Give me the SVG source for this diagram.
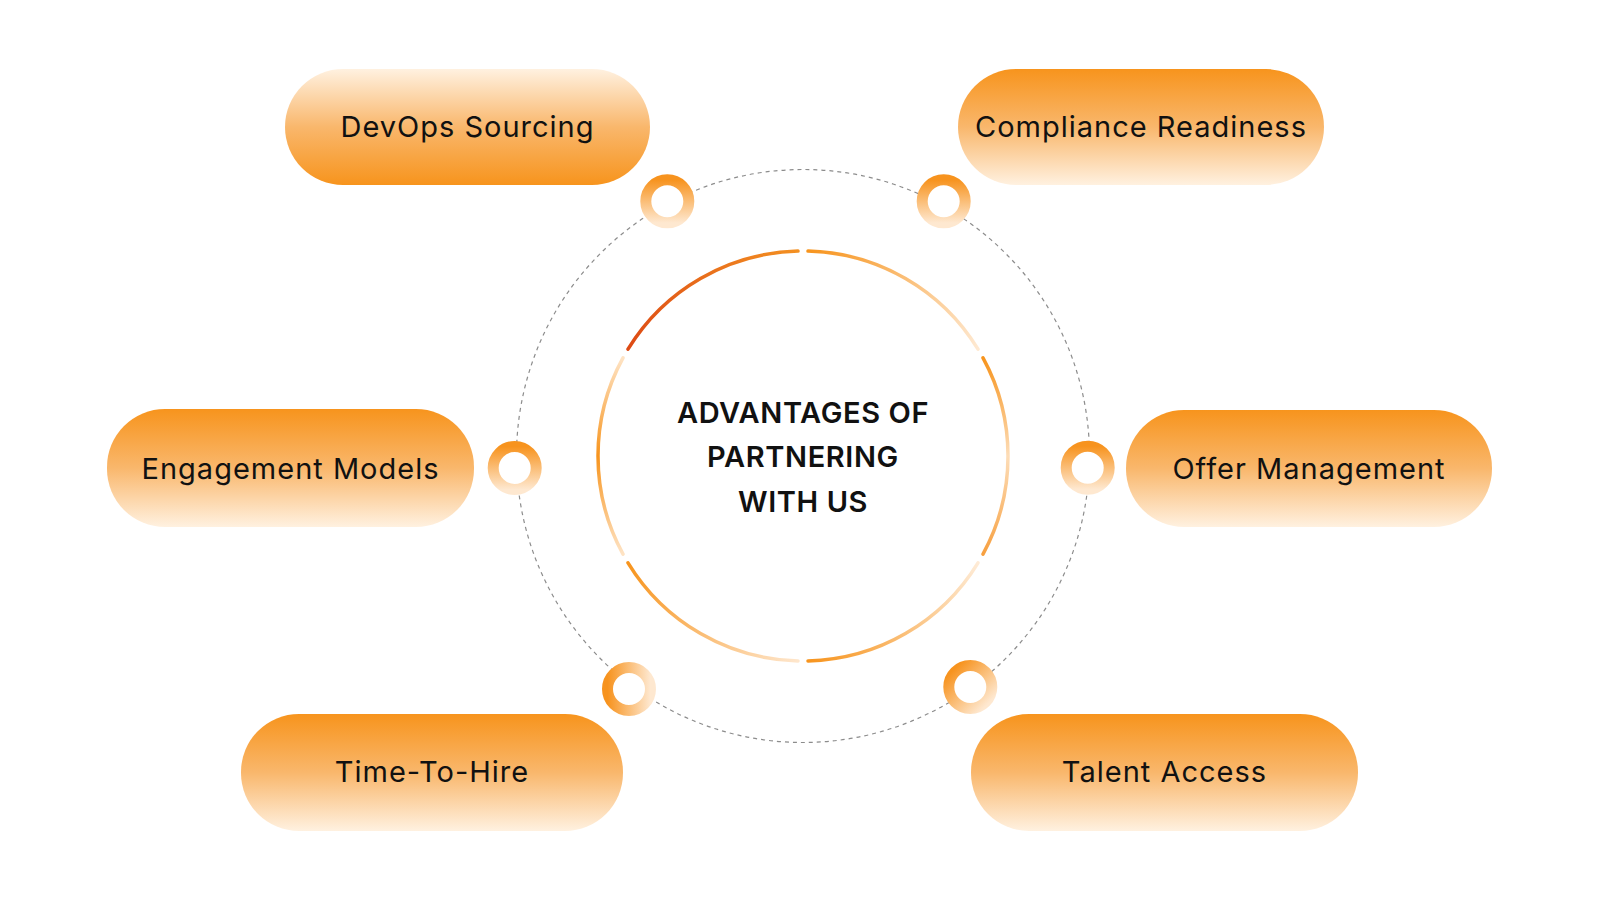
<svg xmlns="http://www.w3.org/2000/svg" width="1600" height="900" viewBox="0 0 1600 900">
<defs>
<linearGradient id="pillDown" x1="0" y1="0" x2="0" y2="1">
<stop offset="0" stop-color="#F7941D"/>
<stop offset="0.5" stop-color="#F9B76C"/>
<stop offset="1" stop-color="#FFF1E0"/>
</linearGradient>
<linearGradient id="pillUp" x1="0" y1="1" x2="0" y2="0">
<stop offset="0" stop-color="#F7941D"/>
<stop offset="0.5" stop-color="#F9B76C"/>
<stop offset="1" stop-color="#FFF1E0"/>
</linearGradient>
<linearGradient id="ringV" x1="0" y1="0" x2="0" y2="1">
<stop offset="0" stop-color="#F7931E"/>
<stop offset="1" stop-color="#FEE8D0"/>
</linearGradient>
<linearGradient id="ringH" x1="0" y1="0" x2="1" y2="0">
<stop offset="0" stop-color="#F7931E"/>
<stop offset="1" stop-color="#FEE8D0"/>
</linearGradient>
<linearGradient id="ringD" x1="0" y1="0" x2="1" y2="1">
<stop offset="0.1" stop-color="#F7931E"/>
<stop offset="0.9" stop-color="#FEE8D0"/>
</linearGradient>
<linearGradient id="a1" gradientUnits="userSpaceOnUse" x1="628" y1="349" x2="798" y2="251">
<stop offset="0" stop-color="#DD4A14"/>
<stop offset="1" stop-color="#F39022"/>
</linearGradient>
<linearGradient id="a2" gradientUnits="userSpaceOnUse" x1="808" y1="251" x2="978" y2="349">
<stop offset="0" stop-color="#F7941D"/>
<stop offset="1" stop-color="#FEE9D2"/>
</linearGradient>
<linearGradient id="a3" gradientUnits="userSpaceOnUse" x1="0" y1="358" x2="0" y2="554">
<stop offset="0" stop-color="#F7941D"/>
<stop offset="0.5" stop-color="#FDDDB8"/>
<stop offset="1" stop-color="#F7A040"/>
</linearGradient>
<linearGradient id="a4" gradientUnits="userSpaceOnUse" x1="978" y1="563" x2="808" y2="661">
<stop offset="0" stop-color="#FEEBD6"/>
<stop offset="1" stop-color="#F7941D"/>
</linearGradient>
<linearGradient id="a5" gradientUnits="userSpaceOnUse" x1="798" y1="661" x2="628" y2="563">
<stop offset="0" stop-color="#FEE6CC"/>
<stop offset="1" stop-color="#F7941D"/>
</linearGradient>
<linearGradient id="a6" gradientUnits="userSpaceOnUse" x1="0" y1="358" x2="0" y2="554">
<stop offset="0" stop-color="#FEE3C4"/>
<stop offset="0.5" stop-color="#F7941D"/>
<stop offset="1" stop-color="#FEE3C4"/>
</linearGradient>
</defs>
<style>
.lbl{font-family:Inter,"Liberation Sans",sans-serif;font-size:29px;letter-spacing:1px;fill:#111;text-anchor:middle}
.title{font-family:Inter,"Liberation Sans",sans-serif;font-size:29px;letter-spacing:0.6px;font-weight:600;fill:#111;text-anchor:middle}
.ring{fill:#fff;stroke-width:11}
.arc{fill:none;stroke-width:3.5;stroke-linecap:round}
</style>
<rect width="1600" height="900" fill="#fff"/>
<g id="connectors">
<circle cx="803" cy="456" r="286.5" fill="none" stroke="#8c8c8c" stroke-width="1.2" stroke-dasharray="4 4"/>
</g>
<g id="center">
<path class="arc" stroke="url(#a1)" d="M 628.0 349.2 A 205 205 0 0 1 798.0 251.1"/>
<path class="arc" stroke="url(#a2)" d="M 808.0 251.1 A 205 205 0 0 1 978.0 349.2"/>
<path class="arc" stroke="url(#a3)" d="M 983.0 357.9 A 205 205 0 0 1 983.0 554.1"/>
<path class="arc" stroke="url(#a4)" d="M 978.0 562.8 A 205 205 0 0 1 808.0 660.9"/>
<path class="arc" stroke="url(#a5)" d="M 798.0 660.9 A 205 205 0 0 1 628.0 562.8"/>
<path class="arc" stroke="url(#a6)" d="M 623.0 554.1 A 205 205 0 0 1 623.0 357.9"/>
<text class="title" x="803" y="423">ADVANTAGES OF</text>
<text class="title" x="803" y="467">PARTNERING</text>
<text class="title" x="803" y="512">WITH US</text>
</g>
<g id="devops">
<rect x="285" y="69" width="365" height="116" rx="58" fill="url(#pillUp)"/>
<text class="lbl" x="467.5" y="137">DevOps Sourcing</text>
<circle class="ring" cx="667.3" cy="201.3" r="21.5" stroke="url(#ringV)"/>
</g>
<g id="compliance">
<rect x="958" y="69" width="366" height="116" rx="58" fill="url(#pillDown)"/>
<text class="lbl" x="1141" y="137">Compliance Readiness</text>
<circle class="ring" cx="943.7" cy="201.3" r="21.5" stroke="url(#ringV)"/>
</g>
<g id="engagement">
<rect x="107" y="409" width="367" height="118" rx="58" fill="url(#pillDown)"/>
<text class="lbl" x="290.5" y="479">Engagement Models</text>
<circle class="ring" cx="514.7" cy="468" r="21.5" stroke="url(#ringV)"/>
</g>
<g id="offer">
<rect x="1126" y="410" width="366" height="117" rx="58" fill="url(#pillDown)"/>
<text class="lbl" x="1309" y="479">Offer Management</text>
<circle class="ring" cx="1087.7" cy="467.7" r="21.5" stroke="url(#ringV)"/>
</g>
<g id="timetohire">
<rect x="241" y="714" width="382" height="117" rx="58" fill="url(#pillDown)"/>
<text class="lbl" x="432" y="782">Time-To-Hire</text>
<circle class="ring" cx="629" cy="689" r="21.5" stroke="url(#ringH)"/>
</g>
<g id="talent">
<rect x="971" y="714" width="387" height="117" rx="58" fill="url(#pillDown)"/>
<text class="lbl" x="1164.5" y="782">Talent Access</text>
<circle class="ring" cx="970.3" cy="687" r="21.5" stroke="url(#ringD)"/>
</g>
</svg>
